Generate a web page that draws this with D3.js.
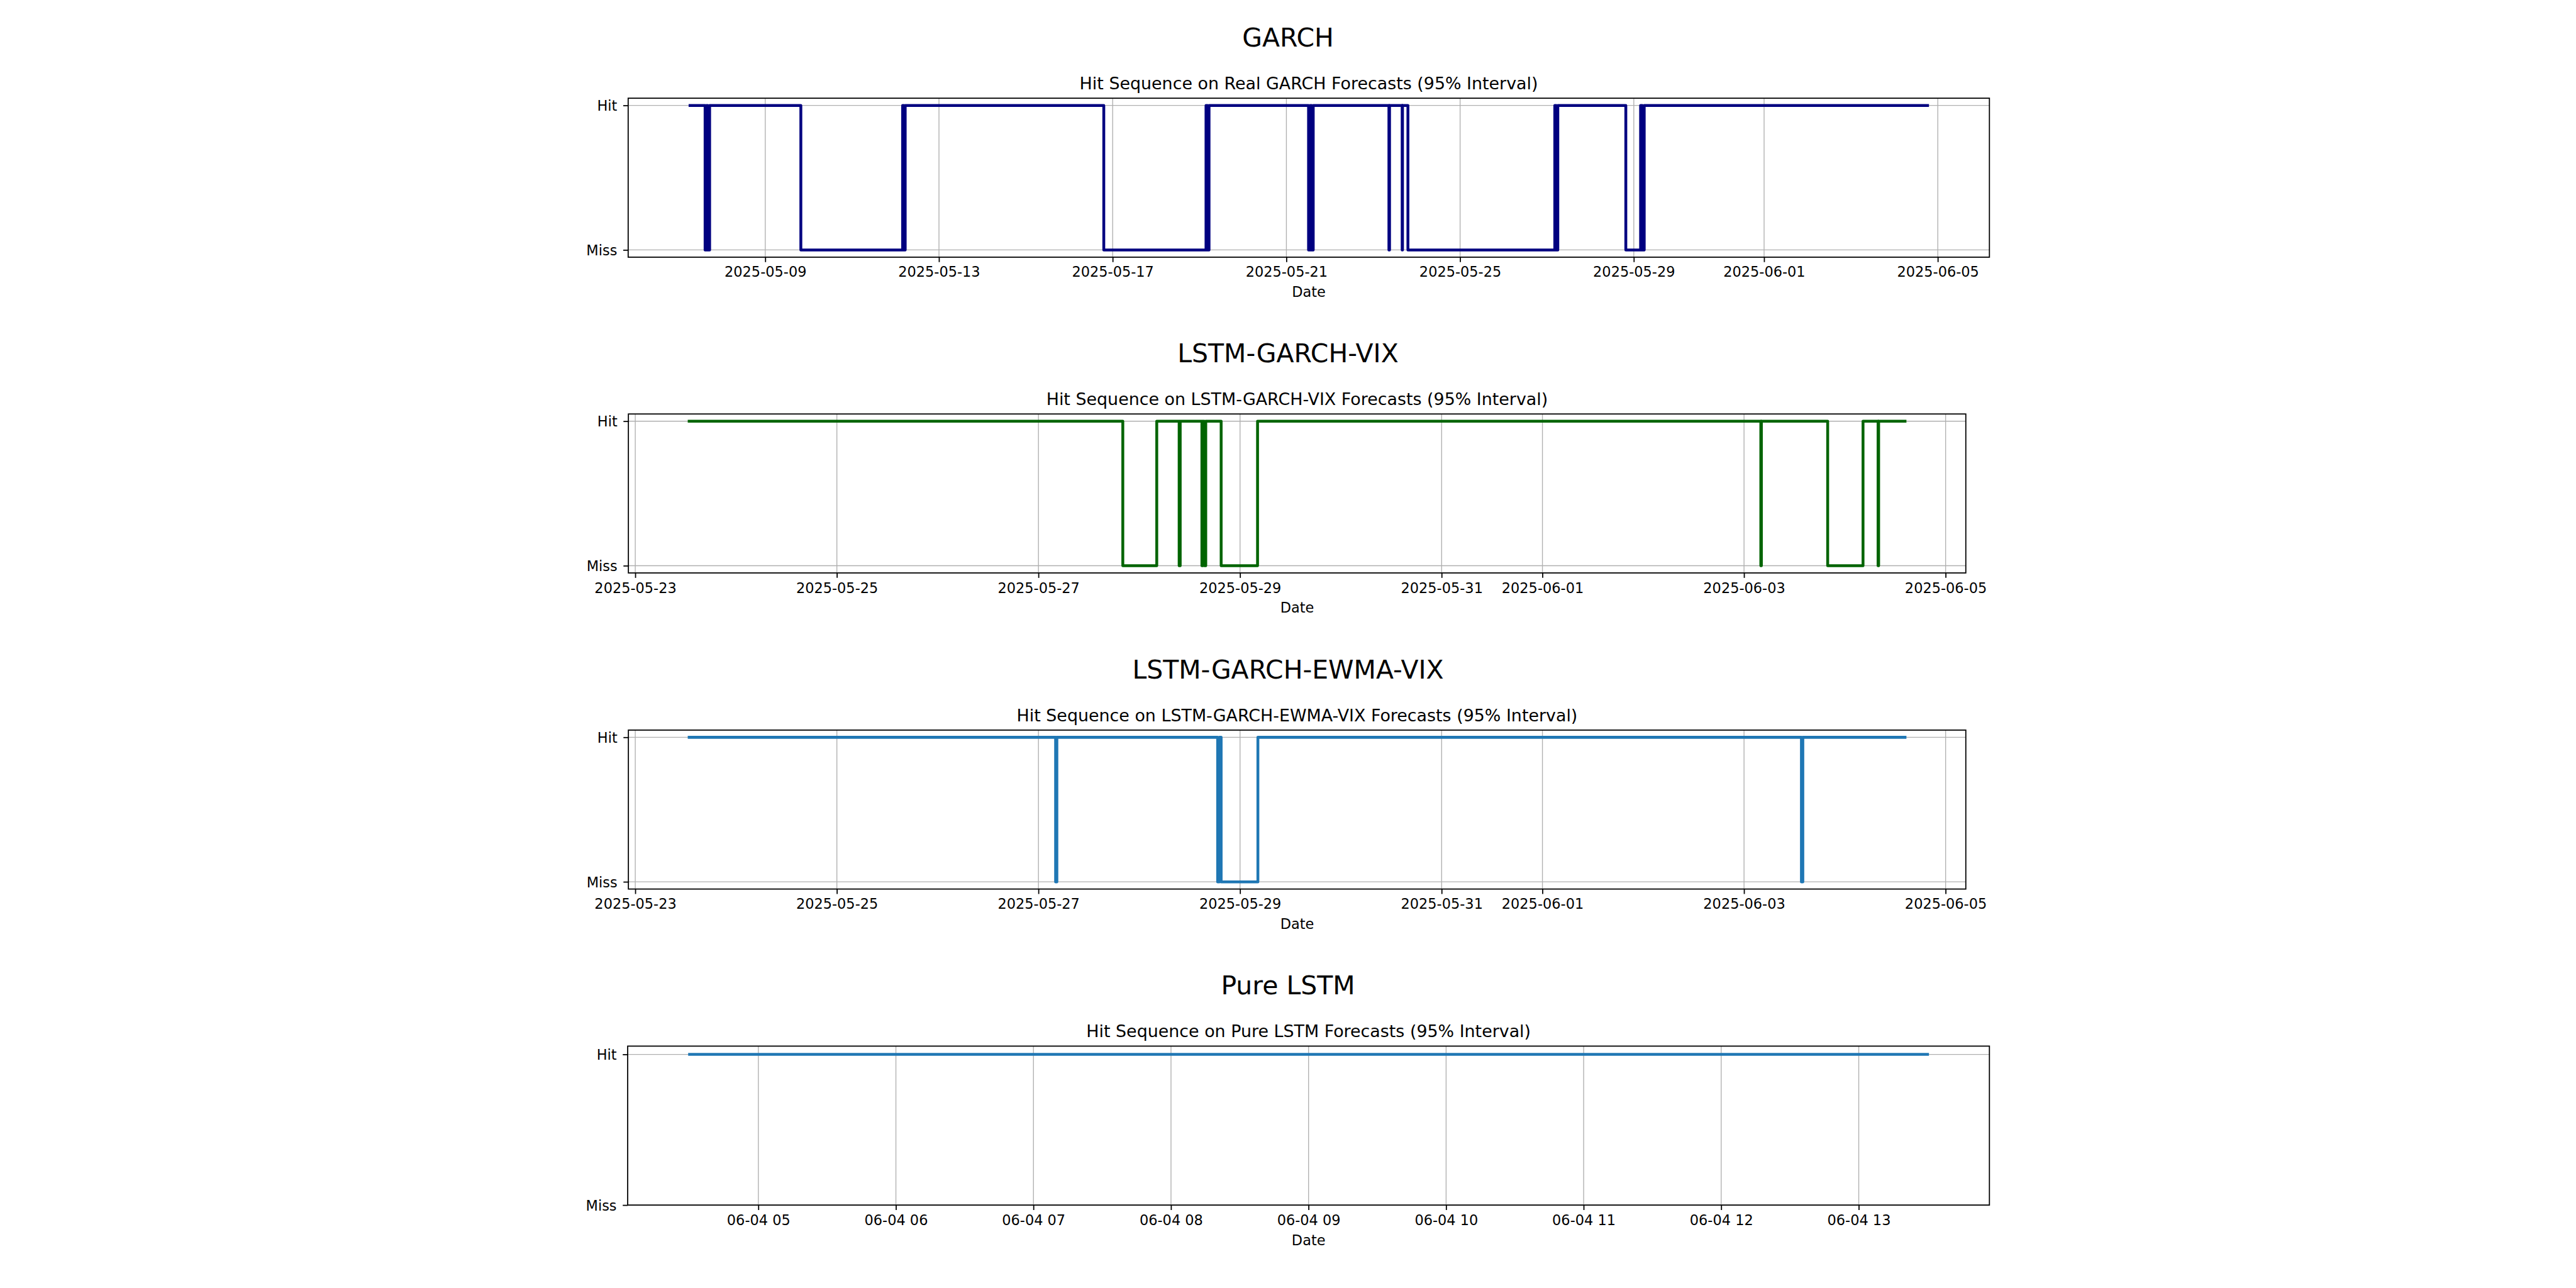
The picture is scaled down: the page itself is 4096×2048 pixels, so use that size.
<!DOCTYPE html>
<html>
<head>
<meta charset="utf-8">
<script src="https://cdn.jsdelivr.net/npm/d3@7"></script>
<style>
  html, body { margin: 0; padding: 0; background: #ffffff; }
  svg { display: block; }
</style>
</head>
<body>
<svg id="chart" width="4096" height="2048"></svg>
<script>
// ================= DATA =================
const modelNames = ["GARCH", "LSTM-GARCH-VIX", "LSTM-GARCH-EWMA-VIX", "Pure LSTM"];
const subtitles = [
  "Hit Sequence on Real GARCH Forecasts (95% Interval)",
  "Hit Sequence on LSTM-GARCH-VIX Forecasts (95% Interval)",
  "Hit Sequence on LSTM-GARCH-EWMA-VIX Forecasts (95% Interval)",
  "Hit Sequence on Pure LSTM Forecasts (95% Interval)"
];
const xAxisLabel = "Date";
const yTickValues = [0, 1];
const yTickLabels = ["Miss", "Hit"];

// GARCH hit sequence (change points, 1 = Hit, 0 = Miss)
const garchDates = [
  "2025-05-07 06:26", "2025-05-07 14:45", "2025-05-07 15:30", "2025-05-07 16:15", "2025-05-07 17:15",
  "2025-05-09 19:40", "2025-05-12 03:55", "2025-05-12 04:35", "2025-05-12 05:20",
  "2025-05-16 19:05", "2025-05-19 03:35", "2025-05-19 04:25", "2025-05-19 05:15",
  "2025-05-21 12:15", "2025-05-21 13:05", "2025-05-21 14:00", "2025-05-21 14:50",
  "2025-05-23 08:40", "2025-05-23 09:00", "2025-05-23 16:00", "2025-05-23 16:10",
  "2025-05-23 19:10", "2025-05-27 04:20", "2025-05-27 05:10", "2025-05-27 06:00",
  "2025-05-28 19:35", "2025-05-29 03:45", "2025-05-29 04:45", "2025-05-29 05:45",
  "2025-06-04 18:20"
];
const garchHits = [
  1, 0, 1, 0, 1,
  0, 1, 0, 1,
  0, 1, 0, 1,
  0, 1, 0, 1,
  0, 1, 0, 1,
  0, 1, 0, 1,
  0, 1, 0, 1,
  1
];

// LSTM-GARCH-VIX hit sequence
const lstmGarchVixDates = [
  "2025-05-23 12:50", "2025-05-27 20:05", "2025-05-28 04:10", "2025-05-28 09:30", "2025-05-28 09:45",
  "2025-05-28 14:55", "2025-05-28 15:10", "2025-05-28 15:30", "2025-05-28 15:50",
  "2025-05-28 19:30", "2025-05-29 04:10", "2025-06-03 04:00", "2025-06-03 04:08",
  "2025-06-03 19:55", "2025-06-04 04:20", "2025-06-04 07:55", "2025-06-04 08:03",
  "2025-06-04 14:20"
];
const lstmGarchVixHits = [
  1, 0, 1, 0, 1,
  0, 1, 0, 1,
  0, 1, 0, 1,
  0, 1, 0, 1,
  1
];

// LSTM-GARCH-EWMA-VIX hit sequence
const lstmGarchEwmaVixDates = [
  "2025-05-23 12:50", "2025-05-27 04:05", "2025-05-27 04:23",
  "2025-05-28 18:40", "2025-05-28 19:05", "2025-05-28 19:30", "2025-05-29 04:15",
  "2025-06-03 13:40", "2025-06-03 14:00", "2025-06-04 14:20"
];
const lstmGarchEwmaVixHits = [1, 0, 1, 0, 1, 0, 1, 0, 1, 1];

// Pure LSTM hit sequence
const pureLstmDates = [
  "2025-06-04 04:30", "2025-06-04 05:30", "2025-06-04 06:30", "2025-06-04 07:30", "2025-06-04 08:30",
  "2025-06-04 09:30", "2025-06-04 10:30", "2025-06-04 11:30", "2025-06-04 12:30", "2025-06-04 13:30"
];
const pureLstmHits = [1, 1, 1, 1, 1, 1, 1, 1, 1, 1];

// Tick values
const garchTicks = ["2025-05-09", "2025-05-13", "2025-05-17", "2025-05-21", "2025-05-25", "2025-05-29", "2025-06-01", "2025-06-05"];
const vixTicks = ["2025-05-23", "2025-05-25", "2025-05-27", "2025-05-29", "2025-05-31", "2025-06-01", "2025-06-03", "2025-06-05"];
const lstmTicks = ["2025-06-04 05:00", "2025-06-04 06:00", "2025-06-04 07:00", "2025-06-04 08:00", "2025-06-04 09:00",
                   "2025-06-04 10:00", "2025-06-04 11:00", "2025-06-04 12:00", "2025-06-04 13:00"];

// ================= STYLE / LAYOUT (reference units, scaled) =================
const S = 4096 / 4800;
const FONT = "'DejaVu Sans', 'Liberation Sans', sans-serif";
const lineColors = ["#000080", "#006400", "#1f77b4", "#1f77b4"];
const layout = [
  { left: 1170.5, right: 3707, top: 183.0 },
  { left: 1170.9, right: 3663, top: 771.4 },
  { left: 1170.9, right: 3663, top: 1360.4 },
  { left: 1169.6, right: 3707, top: 1949.3 }
];
const axH = 296.2;
const figCenterX = 2400;

const parse = d3.utcParse("%Y-%m-%d %H:%M");
const parseDay = d3.utcParse("%Y-%m-%d");
const fmtDay = d3.utcFormat("%Y-%m-%d");
const fmtHour = d3.utcFormat("%m-%d %H");

const panels = [
  { title: modelNames[0], subtitle: subtitles[0], dates: garchDates, hits: garchHits, color: lineColors[0], ticks: garchTicks.map(parseDay), fmt: fmtDay },
  { title: modelNames[1], subtitle: subtitles[1], dates: lstmGarchVixDates, hits: lstmGarchVixHits, color: lineColors[1], ticks: vixTicks.map(parseDay), fmt: fmtDay },
  { title: modelNames[2], subtitle: subtitles[2], dates: lstmGarchEwmaVixDates, hits: lstmGarchEwmaVixHits, color: lineColors[2], ticks: vixTicks.map(parseDay), fmt: fmtDay },
  { title: modelNames[3], subtitle: subtitles[3], dates: pureLstmDates, hits: pureLstmHits, color: lineColors[3], ticks: lstmTicks.map(parse), fmt: fmtHour }
];

function yDomain(vals) {
  let lo = d3.min(vals), hi = d3.max(vals);
  if (lo === hi) { const a = Math.abs(lo) || 1; lo -= 0.05 * a; hi += 0.05 * a; }
  const m = 0.05 * (hi - lo);
  lo -= m; hi += m;
  lo = Math.min(lo, d3.min(yTickValues));
  hi = Math.max(hi, d3.max(yTickValues));
  return [lo, hi];
}

const svg = d3.select("#chart");
svg.append("rect").attr("width", 4096).attr("height", 2048).attr("fill", "#ffffff");
const root = svg.append("g").attr("transform", `scale(${S})`);

panels.forEach((p, i) => {
  const L = layout[i];
  const w = L.right - L.left, h = axH;

  // Suptitle (figure-centred)
  root.append("text")
    .attr("x", figCenterX).attr("y", L.top - 96.5)
    .attr("text-anchor", "middle")
    .attr("font-family", FONT).attr("font-size", 48)
    .attr("fill", "#000").text(p.title);

  const g = root.append("g").attr("transform", `translate(${L.left},${L.top})`);

  const pts = p.dates.map((d, j) => ({ t: parse(d), v: p.hits[j] }));
  const ext = d3.extent(pts, d => d.t);
  const span = ext[1] - ext[0];
  const x = d3.scaleUtc()
    .domain([new Date(+ext[0] - 0.05 * span), new Date(+ext[1] + 0.05 * span)])
    .range([0, w]);
  const y = d3.scaleLinear().domain(yDomain(p.hits)).range([h, 0]);

  // Axes title
  g.append("text")
    .attr("x", w / 2).attr("y", -16.7)
    .attr("text-anchor", "middle")
    .attr("font-family", FONT).attr("font-size", 31.5)
    .attr("fill", "#000").text(p.subtitle);

  // Grid
  const grid = g.append("g").attr("stroke", "#b0b0b0").attr("stroke-width", 1.6);
  grid.selectAll("line.vx").data(p.ticks).join("line").attr("class", "vx")
    .attr("x1", d => x(d)).attr("x2", d => x(d)).attr("y1", 0).attr("y2", h);
  grid.selectAll("line.hy").data(yTickValues).join("line").attr("class", "hy")
    .attr("x1", 0).attr("x2", w).attr("y1", d => y(d)).attr("y2", d => y(d));

  // Step line
  const line = d3.line().x(d => x(d.t)).y(d => y(d.v)).curve(d3.curveStepAfter);
  g.append("path").datum(pts)
    .attr("d", line)
    .attr("fill", "none")
    .attr("stroke", p.color)
    .attr("stroke-width", 5.3)
    .attr("stroke-linecap", "square")
    .attr("stroke-linejoin", "round");

  // Spines
  g.append("rect").attr("x", 0).attr("y", 0).attr("width", w).attr("height", h)
    .attr("fill", "none").attr("stroke", "#000").attr("stroke-width", 2.1);

  // X axis
  const xa = g.append("g").attr("transform", `translate(0,${h})`)
    .call(d3.axisBottom(x).tickValues(p.ticks).tickFormat(p.fmt).tickSize(9.2).tickSizeOuter(0));
  xa.attr("font-family", FONT).attr("font-size", 26.3);
  xa.select(".domain").remove();
  xa.selectAll(".tick line").attr("stroke", "#000").attr("stroke-width", 2.1);
  xa.selectAll(".tick text").attr("y", 37).attr("dy", null).attr("fill", "#000");

  // Y axis
  const ya = g.append("g")
    .call(d3.axisLeft(y).tickValues(yTickValues).tickFormat((d, k) => yTickLabels[yTickValues.indexOf(d)]).tickSize(9.2).tickSizeOuter(0));
  ya.attr("font-family", FONT).attr("font-size", 26.3);
  ya.select(".domain").remove();
  ya.selectAll(".tick line").attr("stroke", "#000").attr("stroke-width", 2.1);
  ya.selectAll(".tick text").attr("x", -20.5).attr("dy", null).attr("y", 9.5).attr("fill", "#000");

  // X label
  g.append("text")
    .attr("x", w / 2).attr("y", h + 74.3)
    .attr("text-anchor", "middle")
    .attr("font-family", FONT).attr("font-size", 26.3)
    .attr("fill", "#000").text(xAxisLabel);
});
</script>
</body>
</html>
